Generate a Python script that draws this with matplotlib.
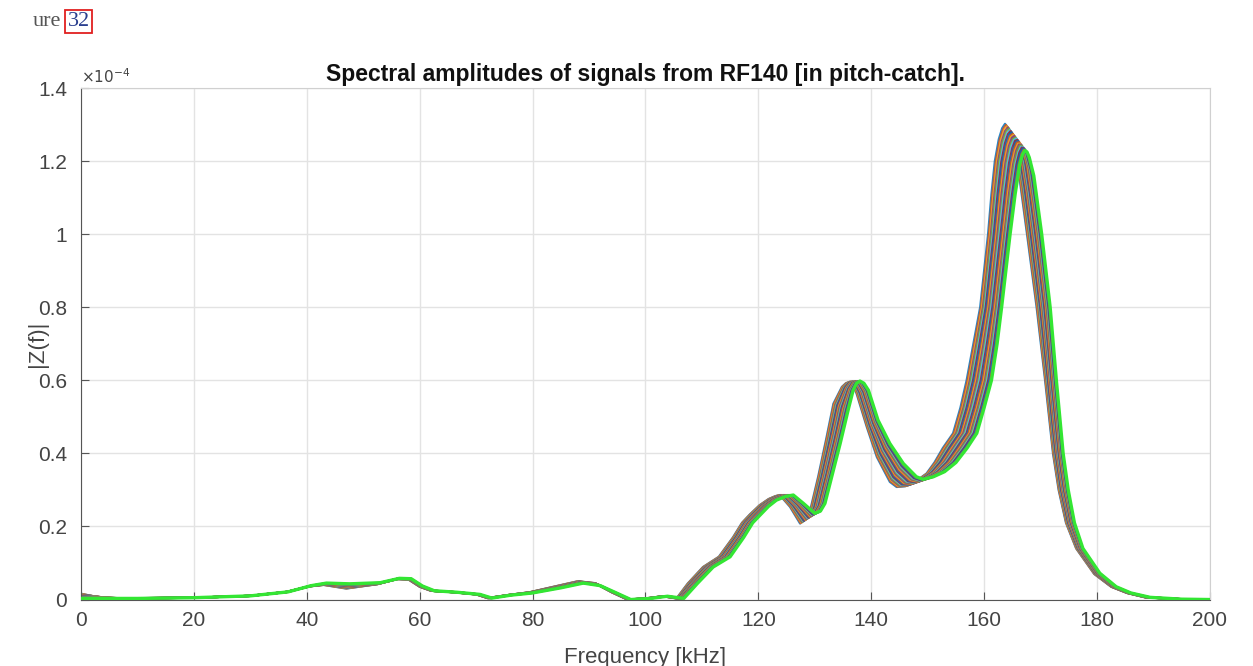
##### Spectral amplitudes plot (RF140, pitch-catch) #####
import numpy as np
import matplotlib.pyplot as plt
from matplotlib.ticker import FuncFormatter

# Feature points of the last (green) curve: frequency [kHz], |Z(f)| [x1e-4]
freq_last = [0, 10, 20, 30, 36.7, 40.8, 43.5, 47.6, 53, 56.4, 58.5, 60.5, 62.6, 66.6, 70.7, 72.8,
             76.2, 80, 85, 89, 92, 95, 97.4, 100.9, 103.9, 106.8, 109.2, 112, 115, 117.4, 119,
             120.3, 121.8, 123.2, 124.8, 126.2, 128, 130, 131, 131.8, 133, 134.5, 135.9, 136.8,
             137.4, 138, 138.7, 139.5, 141.2, 143.3, 145.7, 148, 149.2, 151, 153, 155, 157,
             158.7, 160, 161.3, 162.3, 163.1, 164.6, 165.5, 166.3, 166.8, 167.2, 167.6, 168.0,
             168.8, 169.5, 170.2, 171.7, 172.8, 174.0, 174.9, 176, 177.5, 180.5, 183.4, 186,
             189.4, 195, 200]
amp_last = [0.003, 0.003, 0.005, 0.010, 0.021, 0.038, 0.045, 0.043, 0.046, 0.058, 0.057, 0.037,
            0.024, 0.020, 0.014, 0.004, 0.012, 0.018, 0.032, 0.045, 0.038, 0.017, 0.0, 0.003,
            0.009, 0.003, 0.044, 0.089, 0.117, 0.170, 0.210, 0.231, 0.255, 0.272, 0.282, 0.286,
            0.263, 0.236, 0.242, 0.263, 0.336, 0.427, 0.518, 0.573, 0.592, 0.598, 0.592, 0.573,
            0.491, 0.427, 0.372, 0.336, 0.329, 0.336, 0.350, 0.375, 0.415, 0.455, 0.525, 0.600,
            0.700, 0.800, 1.000, 1.110, 1.190, 1.218, 1.229, 1.225, 1.210, 1.160, 1.080, 1.000,
            0.800, 0.600, 0.400, 0.300, 0.210, 0.140, 0.072, 0.035, 0.018, 0.006, 0.001, 0.0]

# Same feature points on the first (left-most, blue) curve
freq_first = [0, 4, 20, 30, 36.5, 40.5, 43, 47, 52.5, 56, 58, 60, 62, 66, 70, 72,
              75.5, 79.5, 84, 88, 91, 94, 96.8, 100, 103, 105.5, 107.5, 110.2, 113, 115.5, 117.1,
              118.5, 120.2, 121.8, 123, 123.8, 125.6, 127.4, 128.3, 129.2, 130.6, 132.1, 133.3,
              134.8, 135.5, 136.2, 136.8, 137.4, 139.2, 141, 143.3, 144.5, 146, 147.4, 149.8,
              151.2, 152.7, 154.5, 155.8, 156.9, 158.1, 159.3, 160.7, 161.3, 161.9, 162.6, 163.2,
              163.7, 164.3, 165.2, 166.3, 167.6, 169.3, 170.8, 172.2, 173.2, 174.5, 176.3, 179.5,
              182.5, 185.3, 188.5, 194.5, 200]
amp_first = [0.016, 0.003, 0.005, 0.010, 0.021, 0.036, 0.040, 0.030, 0.042, 0.056, 0.055, 0.035,
             0.024, 0.020, 0.014, 0.004, 0.012, 0.020, 0.036, 0.050, 0.045, 0.020, 0.0, 0.003,
             0.009, 0.003, 0.044, 0.089, 0.117, 0.170, 0.210, 0.233, 0.258, 0.275, 0.283, 0.286,
             0.254, 0.208, 0.222, 0.245, 0.336, 0.445, 0.536, 0.582, 0.592, 0.596, 0.585, 0.564,
             0.473, 0.390, 0.322, 0.308, 0.310, 0.318, 0.345, 0.375, 0.415, 0.455, 0.525, 0.600,
             0.700, 0.800, 1.000, 1.110, 1.200, 1.260, 1.290, 1.302, 1.290, 1.250, 1.150, 1.000,
             0.800, 0.600, 0.400, 0.300, 0.210, 0.140, 0.070, 0.035, 0.018, 0.006, 0.001, 0.0]

# position of each recorded signal between the first and the last curve
series_pos = [0.00, 0.04, 0.09, 0.13, 0.17, 0.22, 0.26, 0.30, 0.35, 0.39, 0.43, 0.48,
              0.52, 0.57, 0.61, 0.65, 0.70, 0.74, 0.78, 0.83, 0.87, 0.91, 0.96, 1.00]

xticks = [0, 20, 40, 60, 80, 100, 120, 140, 160, 180, 200]
yticks = [0, 0.2, 0.4, 0.6, 0.8, 1.0, 1.2, 1.4]

# MATLAB default colour order
matlab_cols = [(0, 0.447, 0.741), (0.850, 0.325, 0.098), (0.929, 0.694, 0.125),
               (0.494, 0.184, 0.556), (0.466, 0.674, 0.188), (0.301, 0.745, 0.933),
               (0.635, 0.078, 0.184)]

plt.rcParams['font.family'] = ['Liberation Sans', 'DejaVu Sans']

fig = plt.figure(figsize=(12.53, 6.66), dpi=100)
ax = fig.add_axes([0.0646, 0.0998, 0.901, 0.768])

f1, a1 = np.array(freq_first), np.array(amp_first)
f2, a2 = np.array(freq_last), np.array(amp_last)
for i, w in enumerate(series_pos):
    f = (1 - w) * f1 + w * f2
    a = (1 - w) * a1 + w * a2
    if i == len(series_pos) - 1:
        ax.plot(f, a, color=(0.2, 0.9, 0.2), lw=2.4, zorder=5, solid_joinstyle='round')
    else:
        ax.plot(f, a, color=matlab_cols[i % 7], lw=1.6, alpha=0.85, solid_joinstyle='round')

ax.set_xlim(0, 200)
ax.set_ylim(0, 1.4)
ax.set_xticks(xticks)
ax.set_yticks(yticks)
ax.yaxis.set_major_formatter(FuncFormatter(lambda v, p: '%g' % v))
ax.grid(True, color='#e3e3e3', lw=1)
ax.set_axisbelow(True)
ax.tick_params(direction='in', length=6, colors='#555555', labelcolor='#444444', labelsize=15)
ax.tick_params(axis='x', pad=8)
ax.tick_params(axis='y', pad=10)
for s in ['bottom', 'left']:
    ax.spines[s].set_color('#555555')
for s in ['top', 'right']:
    ax.spines[s].set_color('#d0d0d0')

ax.set_title('Spectral amplitudes of signals from RF140 [in pitch-catch].', fontsize=16.5,
             fontweight='bold', color='#111111', pad=5)
ax.set_xlabel('Frequency [kHz]', fontsize=16, color='#444444')
ax.set_ylabel('|Z(f)|', fontsize=16, color='#444444')
ax.xaxis.set_label_coords(0.5, -0.092)
ax.yaxis.set_label_coords(-0.029, 0.5)
ax.text(0.0, 1.004, r'$\times 10^{-4}$', transform=ax.transAxes, fontsize=11, color='#444444',
        ha='left', va='bottom')

# caption fragment at top-left of the page
fig.text(0.026, 0.968, 'ure', family='Liberation Serif', fontsize=16, color='#555555', va='center')
fig.text(0.054, 0.968, '32', family='Liberation Serif', fontsize=16, color='#2a3f8f', va='center',
         bbox=dict(boxstyle='square,pad=0.1', fc='none', ec='#e02020', lw=1.3))

plt.savefig('out.png', dpi=100)
